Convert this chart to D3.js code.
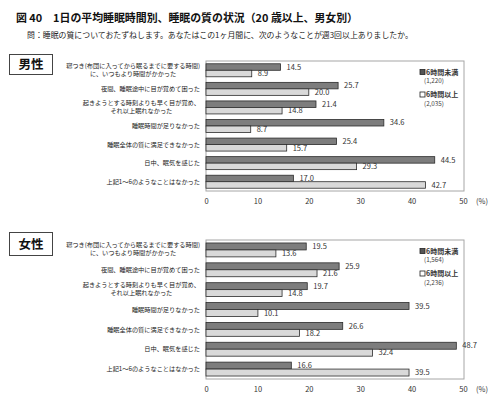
<!DOCTYPE html>
<html>
<head>
<meta charset="utf-8">
<script src="https://cdn.jsdelivr.net/npm/d3@7"></script>
<style>
  html, body { margin: 0; padding: 0; background: #fff; }
  svg { display: block; font-family: "Noto Sans CJK JP", "Noto Sans", sans-serif; }
</style>
</head>
<body>
<svg id="chart" width="490" height="397"></svg>
<script>
const categories = [
    ['寝つき(布団に入ってから眠るまでに要する時間)', 'に、いつもより時間がかかった'],
    ['夜間、睡眠途中に目が覚めて困った'],
    ['起きようとする時刻よりも早く目が覚め、', 'それ以上眠れなかった'],
    ['睡眠時間が足りなかった'],
    ['睡眠全体の質に満足できなかった'],
    ['日中、眠気を感じた'],
    ['上記1～6のようなことはなかった']
];
const seriesNames = ['6時間未満', '6時間以上'];

const maleUnder6 = [14.5, 25.7, 21.4, 34.6, 25.4, 44.5, 17.0];
const maleOver6 = [8.9, 20.0, 14.8, 8.7, 15.7, 29.3, 42.7];
const maleCounts = ['(1,220)', '(2,035)'];

const femaleUnder6 = [19.5, 25.9, 19.7, 39.5, 26.6, 48.7, 16.6];
const femaleOver6 = [13.6, 21.6, 14.8, 10.1, 18.2, 32.4, 39.5];
const femaleCounts = ['(1,564)', '(2,236)'];

const xTicks = [0, 10, 20, 30, 40, 50];

const DARK_FILL = '#7d7d7d';
const LIGHT_FILL = '#d9d9d9';
const BAR_STROKE = '#2b2b2b';
const TEXT_COLOR = '#222';

const svg = d3.select('#chart');

svg.append('text')
    .attr('x', 16)
    .attr('y', 22)
    .style('font-size', '10.9px')
    .style('font-weight', '700')
    .style('fill', '#111')
    .text('図 40　1日の平均睡眠時間別、睡眠の質の状況（20 歳以上、男女別）');

svg.append('text')
    .attr('x', 27)
    .attr('y', 38)
    .style('font-size', '7.9px')
    .style('fill', TEXT_COLOR)
    .text('問：睡眠の質についておたずねします。あなたはこの1ヶ月間に、次のようなことが週3回以上ありましたか。');

const x = d3.scaleLinear().domain([0, 50]).range([206, 463]);

function drawPanel(opts) {
    const g = svg.append('g');

    // panel tag
    g.append('rect')
        .attr('x', 9.5).attr('y', opts.tagTop)
        .attr('width', 43).attr('height', opts.tagHeight)
        .attr('fill', 'none')
        .attr('stroke', '#444')
        .attr('stroke-width', 1);
    g.append('text')
        .attr('x', 31).attr('y', opts.tagTop + opts.tagHeight / 2)
        .attr('dy', '0.36em')
        .attr('text-anchor', 'middle')
        .style('font-size', '12.5px')
        .style('font-weight', '700')
        .style('fill', '#111')
        .text(opts.tag);

    const y = d3.scaleBand()
        .domain(d3.range(categories.length))
        .range([opts.top, opts.bottom])
        .paddingInner(0.3)
        .paddingOuter(0.15);
    const half = y.bandwidth() / 2;

    // plot frame
    g.append('rect')
        .attr('x', x(0)).attr('y', opts.top)
        .attr('width', x(50) - x(0) + 1).attr('height', opts.bottom - opts.top)
        .attr('fill', 'none')
        .attr('stroke', '#a6a6a6')
        .attr('stroke-width', 1);

    const series = [
        { values: opts.under, fill: DARK_FILL, off: 0 },
        { values: opts.over, fill: LIGHT_FILL, off: half }
    ];

    series.forEach(s => {
        g.selectAll(null)
            .data(s.values)
            .enter()
            .append('rect')
            .attr('x', x(0))
            .attr('y', (d, i) => y(i) + s.off)
            .attr('width', d => x(d) - x(0))
            .attr('height', half)
            .attr('fill', s.fill)
            .attr('stroke', BAR_STROKE)
            .attr('stroke-width', 0.8);

        g.selectAll(null)
            .data(s.values)
            .enter()
            .append('text')
            .attr('x', d => x(d) + 6)
            .attr('y', (d, i) => y(i) + s.off + half / 2)
            .attr('dy', '0.36em')
            .style('font-size', '7.5px')
            .style('fill', '#333')
            .text(d => d.toFixed(1));
    });

    // category labels
    categories.forEach((lines, i) => {
        const cy = y(i) + y.bandwidth() / 2;
        const lineH = 8;
        const t = g.append('text')
            .style('font-size', '6.2px')
            .style('fill', TEXT_COLOR);
        const spans = lines.map((line, k) => t.append('tspan')
            .attr('y', cy - (lines.length - 1) * lineH / 2 + k * lineH - (lines.length > 1 ? 1 : 0))
            .attr('dy', '0.36em')
            .text(line));
        const widths = spans.map(s => s.node().getComputedTextLength());
        const maxW = d3.max(widths);
        const right = 200;
        spans.forEach((s, k) => {
            if (lines.length === 1) {
                s.attr('x', right).attr('text-anchor', 'end');
            } else {
                s.attr('x', right - maxW / 2).attr('text-anchor', 'middle');
            }
        });
    });

    // x axis
    const axis = g.append('g')
        .attr('transform', `translate(0,${opts.bottom})`)
        .call(d3.axisBottom(x).tickValues(xTicks).tickSize(0).tickPadding(8));
    axis.select('.domain').remove();
    axis.selectAll('text')
        .style('font-size', '7.5px')
        .style('fill', '#333')
        .style('font-family', '"Noto Sans CJK JP", sans-serif');
    g.append('text')
        .attr('x', 476).attr('y', opts.bottom + 8)
        .attr('dy', '0.71em')
        .style('font-size', '7.5px')
        .style('fill', '#333')
        .text('(%)');

    // legend
    seriesNames.forEach((name, k) => {
        const ly = opts.legendTop + k * 22.5;
        g.append('rect')
            .attr('x', 420).attr('y', ly - 2.5)
            .attr('width', 5).attr('height', 5)
            .attr('fill', k === 0 ? '#555' : '#fff')
            .attr('stroke', '#222')
            .attr('stroke-width', 0.8);
        g.append('text')
            .attr('x', 426).attr('y', ly)
            .attr('dy', '0.36em')
            .style('font-size', '7px')
            .style('font-weight', '700')
            .style('fill', '#333')
            .text(name);
        g.append('text')
            .attr('x', 424).attr('y', ly + 9)
            .attr('dy', '0.36em')
            .style('font-size', '6.3px')
            .style('fill', '#444')
            .text(opts.counts[k]);
    });
}

drawPanel({
    tag: '男性', tagTop: 54.5, tagHeight: 20,
    top: 61, bottom: 191,
    under: maleUnder6, over: maleOver6, counts: maleCounts,
    legendTop: 72
});

drawPanel({
    tag: '女性', tagTop: 232.5, tagHeight: 23,
    top: 240, bottom: 379,
    under: femaleUnder6, over: femaleOver6, counts: femaleCounts,
    legendTop: 251
});
</script>
</body>
</html>
